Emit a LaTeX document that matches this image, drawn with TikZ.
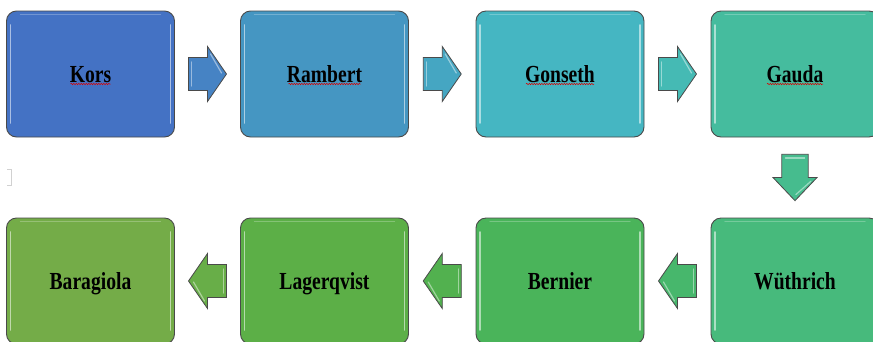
\documentclass[tikz,border=0pt]{standalone}
\usepackage{fontspec}
\newfontfamily\lbl[FakeStretch=0.8]{Liberation Serif}
\usetikzlibrary{calc,decorations.pathmorphing}

\definecolor{cKors}{HTML}{4472C4}
\definecolor{cRambert}{HTML}{4596C2}
\definecolor{cGonseth}{HTML}{45B6C2}
\definecolor{cGauda}{HTML}{45BC9E}
\definecolor{cWuthrich}{HTML}{47BA7C}
\definecolor{cBernier}{HTML}{4AB45A}
\definecolor{cLager}{HTML}{5CAF47}
\definecolor{cBara}{HTML}{74AC48}
\definecolor{aOne}{HTML}{4683C4}
\definecolor{aTwo}{HTML}{45A6C2}
\definecolor{aThree}{HTML}{45BAB4}
\definecolor{aFour}{HTML}{46BC8E}
\definecolor{aFive}{HTML}{47B76C}
\definecolor{aSix}{HTML}{52B14F}
\definecolor{aSeven}{HTML}{68AE48}
\definecolor{edge}{HTML}{4A4A4A}

\tikzset{
  panel/.style={rounded corners=10pt, draw=edge, line width=0.9pt,
    minimum width=168pt, minimum height=126pt, inner sep=0pt,
    text height=18pt, text depth=2pt,
    font=\lbl\bfseries\fontsize{24.5}{26}\selectfont, text=black,
    path picture={
      \draw[white, opacity=.55, line width=1.6pt, line cap=round]
        ([shift={(4pt,-14pt)}]path picture bounding box.north west) --
        ([shift={(4pt,14pt)}]path picture bounding box.south west);
      \draw[white, opacity=.55, line width=1.6pt, line cap=round]
        ([shift={(-4pt,-14pt)}]path picture bounding box.north east) --
        ([shift={(-4pt,14pt)}]path picture bounding box.south east);
      \draw[white, opacity=.25, line width=1.2pt, line cap=round]
        ([shift={(14pt,-3.5pt)}]path picture bounding box.north west) --
        ([shift={(-14pt,-3.5pt)}]path picture bounding box.north east);
    }},
  flowarrow/.style={draw=edge, line width=0.8pt, line join=miter},
  gloss/.style={white, opacity=.45, line width=1.2pt, line cap=round},
  squiggle/.style={red!85!black, line width=0.5pt,
    decorate, decoration={snake, amplitude=0.7pt, segment length=2.5pt}}
}

% block arrow pointing along +x of its own frame, centred on the origin;
% #4 holds extra transformations in the arrow's own frame
\newcommand{\blockarrow}[4]{%
  \begin{scope}[shift={(#1)}, rotate=#2, #4]
    \fill[#3] (-19,-16.5) -- (0,-16.5) -- (0,-27.5) -- (19,0) -- (0,27.5)
      -- (0,16.5) -- (-19,16.5) -- cycle;
    \draw[gloss] (-16,-12) -- (-16,12);
    \draw[gloss] (3,-20) -- (14,-1);
    \draw[flowarrow] (-19,-16.5) -- (0,-16.5) -- (0,-27.5) -- (19,0)
      -- (0,27.5) -- (0,16.5) -- (-19,16.5) -- cycle;
  \end{scope}}

\begin{document}
\begin{tikzpicture}[x=1pt, y=-1pt]
  \useasboundingbox (0,0) rectangle (873,341);
  \clip (0,0) rectangle (873,341);
  \fill[white] (0,0) rectangle (873,341);

  % top row
  \node[panel, fill=cKors]    (kors)    at (90.5,74) {Kors};
  \node[panel, fill=cRambert] (rambert) at (324.5,74) {Rambert};
  \node[panel, fill=cGonseth] (gonseth) at (560,74) {Gonseth};
  \node[panel, fill=cGauda]   (gauda)   at (795,74) {Gauda};

  % bottom row
  \node[panel, fill=cWuthrich] (wuthrich)  at (795,281) {Wüthrich};
  \node[panel, fill=cBernier]  (bernier)   at (560,281) {Bernier};
  \node[panel, fill=cLager]    (lagerqvist) at (324.5,281) {Lagerqvist};
  \node[panel, fill=cBara]     (baragiola) at (90.5,281) {Baragiola};

  % arrows between the panels
  \coordinate (m1) at ($(kors.east)!0.5!(rambert.west)$);
  \coordinate (m2) at ($(rambert.east)!0.5!(gonseth.west)$);
  \coordinate (m3) at ($(gonseth.east)!0.5!(gauda.west)$);
  \coordinate (m4) at ($(gauda.south)!0.5!(wuthrich.north)$);
  \coordinate (m5) at ($(wuthrich.west)!0.5!(bernier.east)$);
  \coordinate (m6) at ($(bernier.west)!0.5!(lagerqvist.east)$);
  \coordinate (m7) at ($(lagerqvist.west)!0.5!(baragiola.east)$);

  \blockarrow{m1}{0}{aOne}{}
  \blockarrow{m2}{0}{aTwo}{}
  \blockarrow{m3}{0}{aThree}{}
  \blockarrow{m4}{-90}{aFour}{xscale=1.22, yscale=0.8}
  \blockarrow{m5}{180}{aFive}{}
  \blockarrow{m6}{180}{aSix}{}
  \blockarrow{m7}{180}{aSeven}{}

  % spell-check underlines
  \draw[squiggle] ([shift={(-20pt,-10pt)}]kors.center) -- ([shift={(20pt,-10pt)}]kors.center);
  \draw[squiggle] ([shift={(-36pt,-10pt)}]rambert.center) -- ([shift={(36pt,-10pt)}]rambert.center);
  \draw[squiggle] ([shift={(-34pt,-10pt)}]gonseth.center) -- ([shift={(34pt,-10pt)}]gonseth.center);
  \draw[squiggle] ([shift={(-28pt,-10pt)}]gauda.center) -- ([shift={(28pt,-10pt)}]gauda.center);

  % faint text-frame mark
  \draw[black!18, line width=0.6pt] (7,169) -- (11,169) -- (11,185) -- (7,185);
\end{tikzpicture}
\end{document}
